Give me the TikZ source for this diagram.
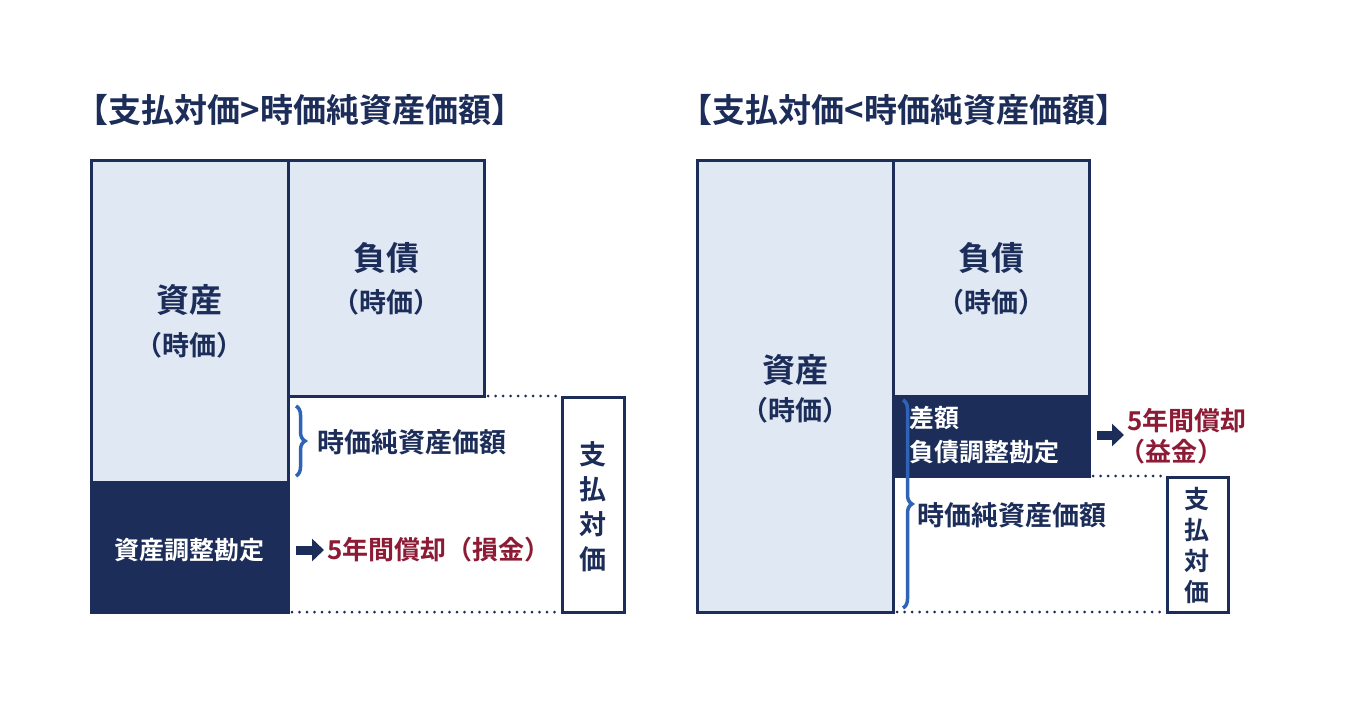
\documentclass[tikz,border=0pt]{standalone}
\usepackage{fontspec}
\setmainfont{Noto Sans CJK JP}[BoldFont=* Bold]
\usetikzlibrary{decorations.pathreplacing,arrows.meta}
\definecolor{navy}{HTML}{1C2D5A}
\definecolor{lightb}{HTML}{DFE8F3}
\definecolor{redc}{HTML}{8E1B35}
\definecolor{bluec}{HTML}{2F63B5}
\tikzset{
 box/.style={draw=navy,line width=3pt,fill=lightb},
 dbox/.style={draw=navy,line width=3pt,fill=navy},
 wbox/.style={draw=navy,line width=3pt,fill=white},
 big/.style={font=\bfseries\fontsize{33}{36}\selectfont,text=navy},
 mid/.style={font=\bfseries\fontsize{27}{30}\selectfont,text=navy},
 ttl/.style={font=\bfseries\fontsize{33}{36}\selectfont,text=navy,anchor=west},
 wt/.style={font=\bfseries\fontsize{25}{28}\selectfont,text=white,anchor=west},
 rt/.style={font=\bfseries\fontsize{26}{28}\selectfont,text=redc,anchor=west},
 dots/.style={navy,line width=3pt,dash pattern=on 0pt off 7.5pt,line cap=round},
 br/.style={bluec,line width=3.5pt,decorate,decoration={brace,amplitude=9pt}},
 arr/.style={navy,line width=9pt,-{Triangle[length=12pt,width=22pt]}},
 vt/.style={font=\bfseries\fontsize{27}{35}\selectfont,text=navy,align=center}
}
\begin{document}
\begin{tikzpicture}[x=1pt,y=-1pt]
\useasboundingbox[fill=white] (0,0) rectangle (1350,704);
% left
\node[ttl] (t1) at (72,110) {【支払対価>時価純資産価額】};
\draw[box] (91,160) rectangle (288,482);
\draw[dbox] (91,482) rectangle (288,612);
\draw[box] (288,160) rectangle (484,396);
\node[big] (a1) at (189,300) {資産};
\node[mid] (a1b) at (189,345) {（時価）};
\node[big] (l1) at (386,258) {負債};
\node[mid] (l1b) at (386,302) {（時価）};
\node[wt,anchor=center] (d1) at (189,550) {資産調整勘定};
\coordinate (p1) at (488,396); \coordinate (p2) at (560,396);
\draw[dots] (p1) -- (p2);
\coordinate (p3) at (292,612); \coordinate (p4) at (560,612);
\draw[dots] (p3) -- (p4);
\coordinate (b1) at (296,406); \coordinate (b2) at (296,476);
\draw[br] (b1) -- (b2);
\node[mid,anchor=west] (n1) at (314,442) {時価純資産価額};
\coordinate (r1) at (296,550); \coordinate (r2) at (324,550);
\draw[arr] (r1) -- (r2);
\node[rt] (g1) at (324,550) {5年間償却（損金）};
\draw[wbox] (562,397) rectangle (624,612);
\node[vt] (v1) at (593,507) {支\\払\\対\\価};
% right
\node[ttl] (t2) at (676,110) {【支払対価<時価純資産価額】};
\draw[box] (697,160) rectangle (893,612);
\draw[box] (893,160) rectangle (1089,396);
\draw[dbox] (893,396) rectangle (1089,476);
\node[big] (a2) at (795,370) {資産};
\node[mid] (a2b) at (795,410) {（時価）};
\node[big] (l2) at (991,258) {負債};
\node[mid] (l2b) at (991,302) {（時価）};
\node[wt] (d2) at (906,418) {差額};
\node[wt] (d3) at (906,452) {負債調整勘定};
\coordinate (r3) at (1097,435); \coordinate (r4) at (1124,435);
\draw[arr] (r3) -- (r4);
\node[rt] (g2) at (1124,421) {5年間償却};
\node[rt] (g3) at (1116,452) {（益金）};
\coordinate (p5) at (1093,476); \coordinate (p6) at (1165,476);
\draw[dots] (p5) -- (p6);
\coordinate (p7) at (897,612); \coordinate (p8) at (1165,612);
\draw[dots] (p7) -- (p8);
\coordinate (b3) at (903,400); \coordinate (b4) at (903,608);
\draw[br] (b3) -- (b4);
\node[mid,anchor=west] (n2) at (914,515) {時価純資産価額};
\draw[wbox] (1167,477) rectangle (1228,612);
\node[vt,font=\bfseries\fontsize{25}{31}\selectfont] (v2) at (1197,545) {支\\払\\対\\価};
\end{tikzpicture}
\end{document}
